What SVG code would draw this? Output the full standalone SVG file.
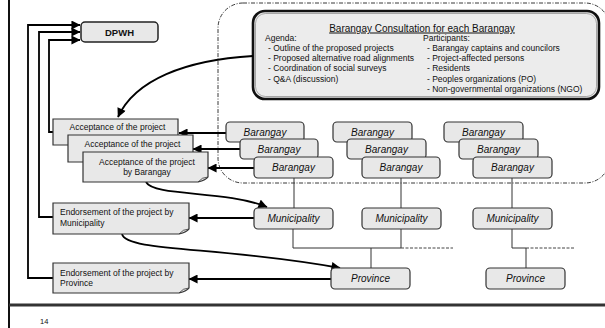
<svg xmlns="http://www.w3.org/2000/svg" width="605" height="328" viewBox="0 0 605 328">
<defs>
<marker id="ah" viewBox="0 0 10 10" refX="9.5" refY="5" markerUnits="userSpaceOnUse" markerWidth="10" markerHeight="9" orient="auto">
<path d="M0,0 L10,5 L0,10 Z" fill="#000"/>
</marker>
</defs>
<style>
text{font-family:"Liberation Sans",Arial,sans-serif;fill:#111}
.box{fill:#e8e8e8;stroke:#333;stroke-width:1.2}
.doc{fill:#e8e8e8;stroke:#333;stroke-width:1.2}
.it{font-style:italic;font-size:10px;text-anchor:middle}
.sm{font-size:8.5px}
.mid{text-anchor:middle}
.conn{fill:none;stroke:#000;stroke-width:1.8}
.thin{fill:none;stroke:#333;stroke-width:1}
.dash{fill:none;stroke:#444;stroke-width:1;stroke-dasharray:3 1.5}
</style>

<!-- frame -->
<line x1="9" y1="0" x2="9" y2="328" stroke="#111" stroke-width="2"/>
<line x1="9" y1="305" x2="605" y2="305" stroke="#333" stroke-width="3"/>
<text x="40" y="323.5" font-size="7.5">14</text>

<!-- consultation region -->
<rect x="218" y="3" width="392" height="180" rx="25" fill="none" stroke="#222" stroke-width="0.9" stroke-dasharray="4 1.5 1 1.5"/>

<g id="consultation">
<rect x="253" y="11" width="346" height="88" rx="12" fill="#ececec" stroke="#111" stroke-width="2.6"/>
<rect x="255.5" y="13.5" width="341" height="83" rx="10" fill="none" stroke="#777" stroke-width="0.6"/>
<text x="422" y="31.5" font-size="10" class="mid" text-decoration="underline">Barangay Consultation for each Barangay</text>
<text class="sm" x="265" y="40.5">Agenda:</text>
<text class="sm" x="268" y="50.8">- Outline of the proposed projects</text>
<text class="sm" x="268" y="61.1">- Proposed alternative road alignments</text>
<text class="sm" x="268" y="71.4">- Coordination of social surveys</text>
<text class="sm" x="268" y="81.7">- Q&amp;A (discussion)</text>
<text class="sm" x="423" y="40.5">Participants:</text>
<text class="sm" x="427" y="50.8">- Barangay captains and councilors</text>
<text class="sm" x="427" y="61.1">- Project-affected persons</text>
<text class="sm" x="427" y="71.4">- Residents</text>
<text class="sm" x="427" y="81.7">- Peoples organizations (PO)</text>
<text class="sm" x="427" y="92">- Non-governmental organizations (NGO)</text>
</g>

<g id="dpwh">
<rect x="81" y="22" width="77" height="20" rx="4" fill="#e8e8e8" stroke="#222" stroke-width="1.5"/>
<text x="119.5" y="35.5" font-size="9.5" font-weight="bold" class="mid">DPWH</text>
</g>

<!-- connectors -->
<g id="connectors">
<path class="conn" d="M53,278 H28 V25 H80" marker-end="url(#ah)"/>
<path class="conn" d="M53,217 H39 V32 H80" marker-end="url(#ah)"/>
<path class="conn" d="M53,132 H49 V40 H80" marker-end="url(#ah)"/>
<path class="conn" d="M253,56 C185,60 135,80 118,117" marker-end="url(#ah)"/>
<path class="conn" d="M226,133 H179" marker-end="url(#ah)"/>
<path class="conn" d="M240,149 H193" marker-end="url(#ah)"/>
<path class="conn" d="M254,168 H208" marker-end="url(#ah)"/>
<path class="conn" d="M146,182 C154,197 225,190 267,207" marker-end="url(#ah)"/>
<path class="conn" d="M254,218 H189" marker-end="url(#ah)"/>
<path class="conn" d="M122,234 C126,252 220,246 340,268" marker-end="url(#ah)"/>
<path class="conn" d="M331,279 H189" marker-end="url(#ah)"/>
<!-- hierarchy lines -->
<path class="thin" d="M294,178 V208"/>
<path class="thin" d="M401,178 V208"/>
<path class="thin" d="M512,178 V208"/>
<path class="thin" d="M293,229 V248 H401 V229"/>
<path class="dash" d="M401,248 H453"/>
<path class="thin" d="M371,248 V268"/>
<path class="thin" d="M512,229 V248 H526"/>
<path class="dash" d="M526,248 H574"/>
<path class="thin" d="M526,248 V268"/>
</g>

<!-- acceptance documents -->
<g id="acc1">
<path class="doc" d="M53,119 H178 V141 Q176,144 168,145 H53 Z"/>
<text class="sm mid" x="117.5" y="130">Acceptance of the project</text>
</g>
<g id="acc2">
<path class="doc" d="M68,135 H193 V158 Q191,161 183,162 H68 Z"/>
<text class="sm mid" x="132.5" y="147">Acceptance of the project</text>
</g>
<g id="acc3">
<path class="doc" d="M83,152 H208 V177 Q206,180 198,182 H83 Z"/>
<path d="M198,182 Q202,177 208,177" fill="none" stroke="#333" stroke-width="0.8"/>
<text class="sm mid" x="147" y="164.5">Acceptance of the project</text>
<text class="sm mid" x="147" y="174.5">by Barangay</text>
</g>

<g id="endorse-mun">
<path class="doc" d="M53,203 H189 V229 Q187,232 179,234 H53 Z"/>
<path d="M179,234 Q183,229 189,229" fill="none" stroke="#333" stroke-width="0.8"/>
<text class="sm" x="60" y="214.5">Endorsement of the project by</text>
<text class="sm" x="60" y="226">Municipality</text>
</g>
<g id="endorse-prov">
<path class="doc" d="M53,263 H189 V288 Q187,291 179,293 H53 Z"/>
<path d="M179,293 Q183,288 189,288" fill="none" stroke="#333" stroke-width="0.8"/>
<text class="sm" x="60" y="276">Endorsement of the project by</text>
<text class="sm" x="60" y="286">Province</text>
</g>

<!-- barangays col 1 -->
<g id="brg1a"><rect class="box" x="226" y="122" width="78" height="20" rx="4"/><text class="it" x="265" y="135.5">Barangay</text></g>
<g id="brg1b"><rect class="box" x="240" y="139" width="78" height="20" rx="4"/><text class="it" x="279" y="152.5">Barangay</text></g>
<g id="brg1c"><rect class="box" x="254" y="157" width="79" height="21" rx="4"/><text class="it" x="293.5" y="171">Barangay</text></g>
<!-- col 2 -->
<g id="brg2a"><rect class="box" x="333" y="122" width="79" height="20" rx="4"/><text class="it" x="372.5" y="135.5">Barangay</text></g>
<g id="brg2b"><rect class="box" x="347" y="139" width="79" height="20" rx="4"/><text class="it" x="386.5" y="152.5">Barangay</text></g>
<g id="brg2c"><rect class="box" x="362" y="157" width="78" height="21" rx="4"/><text class="it" x="401" y="171">Barangay</text></g>
<!-- col 3 -->
<g id="brg3a"><rect class="box" x="444" y="122" width="79" height="20" rx="4"/><text class="it" x="483.5" y="135.5">Barangay</text></g>
<g id="brg3b"><rect class="box" x="459" y="139" width="79" height="20" rx="4"/><text class="it" x="498.5" y="152.5">Barangay</text></g>
<g id="brg3c"><rect class="box" x="473" y="157" width="79" height="21" rx="4"/><text class="it" x="512.5" y="171">Barangay</text></g>

<!-- municipalities -->
<g id="mun1"><rect class="box" x="254" y="208" width="79" height="21" rx="4"/><text class="it" x="293.5" y="222">Municipality</text></g>
<g id="mun2"><rect class="box" x="362" y="208" width="79" height="21" rx="4"/><text class="it" x="401.5" y="222">Municipality</text></g>
<g id="mun3"><rect class="box" x="473" y="208" width="79" height="21" rx="4"/><text class="it" x="512.5" y="222">Municipality</text></g>

<!-- provinces -->
<g id="prov1"><rect class="box" x="331" y="268" width="79" height="21" rx="4"/><text class="it" x="370.5" y="282">Province</text></g>
<g id="prov2"><rect class="box" x="486" y="268" width="79" height="21" rx="4"/><text class="it" x="525.5" y="282">Province</text></g>
</svg>
